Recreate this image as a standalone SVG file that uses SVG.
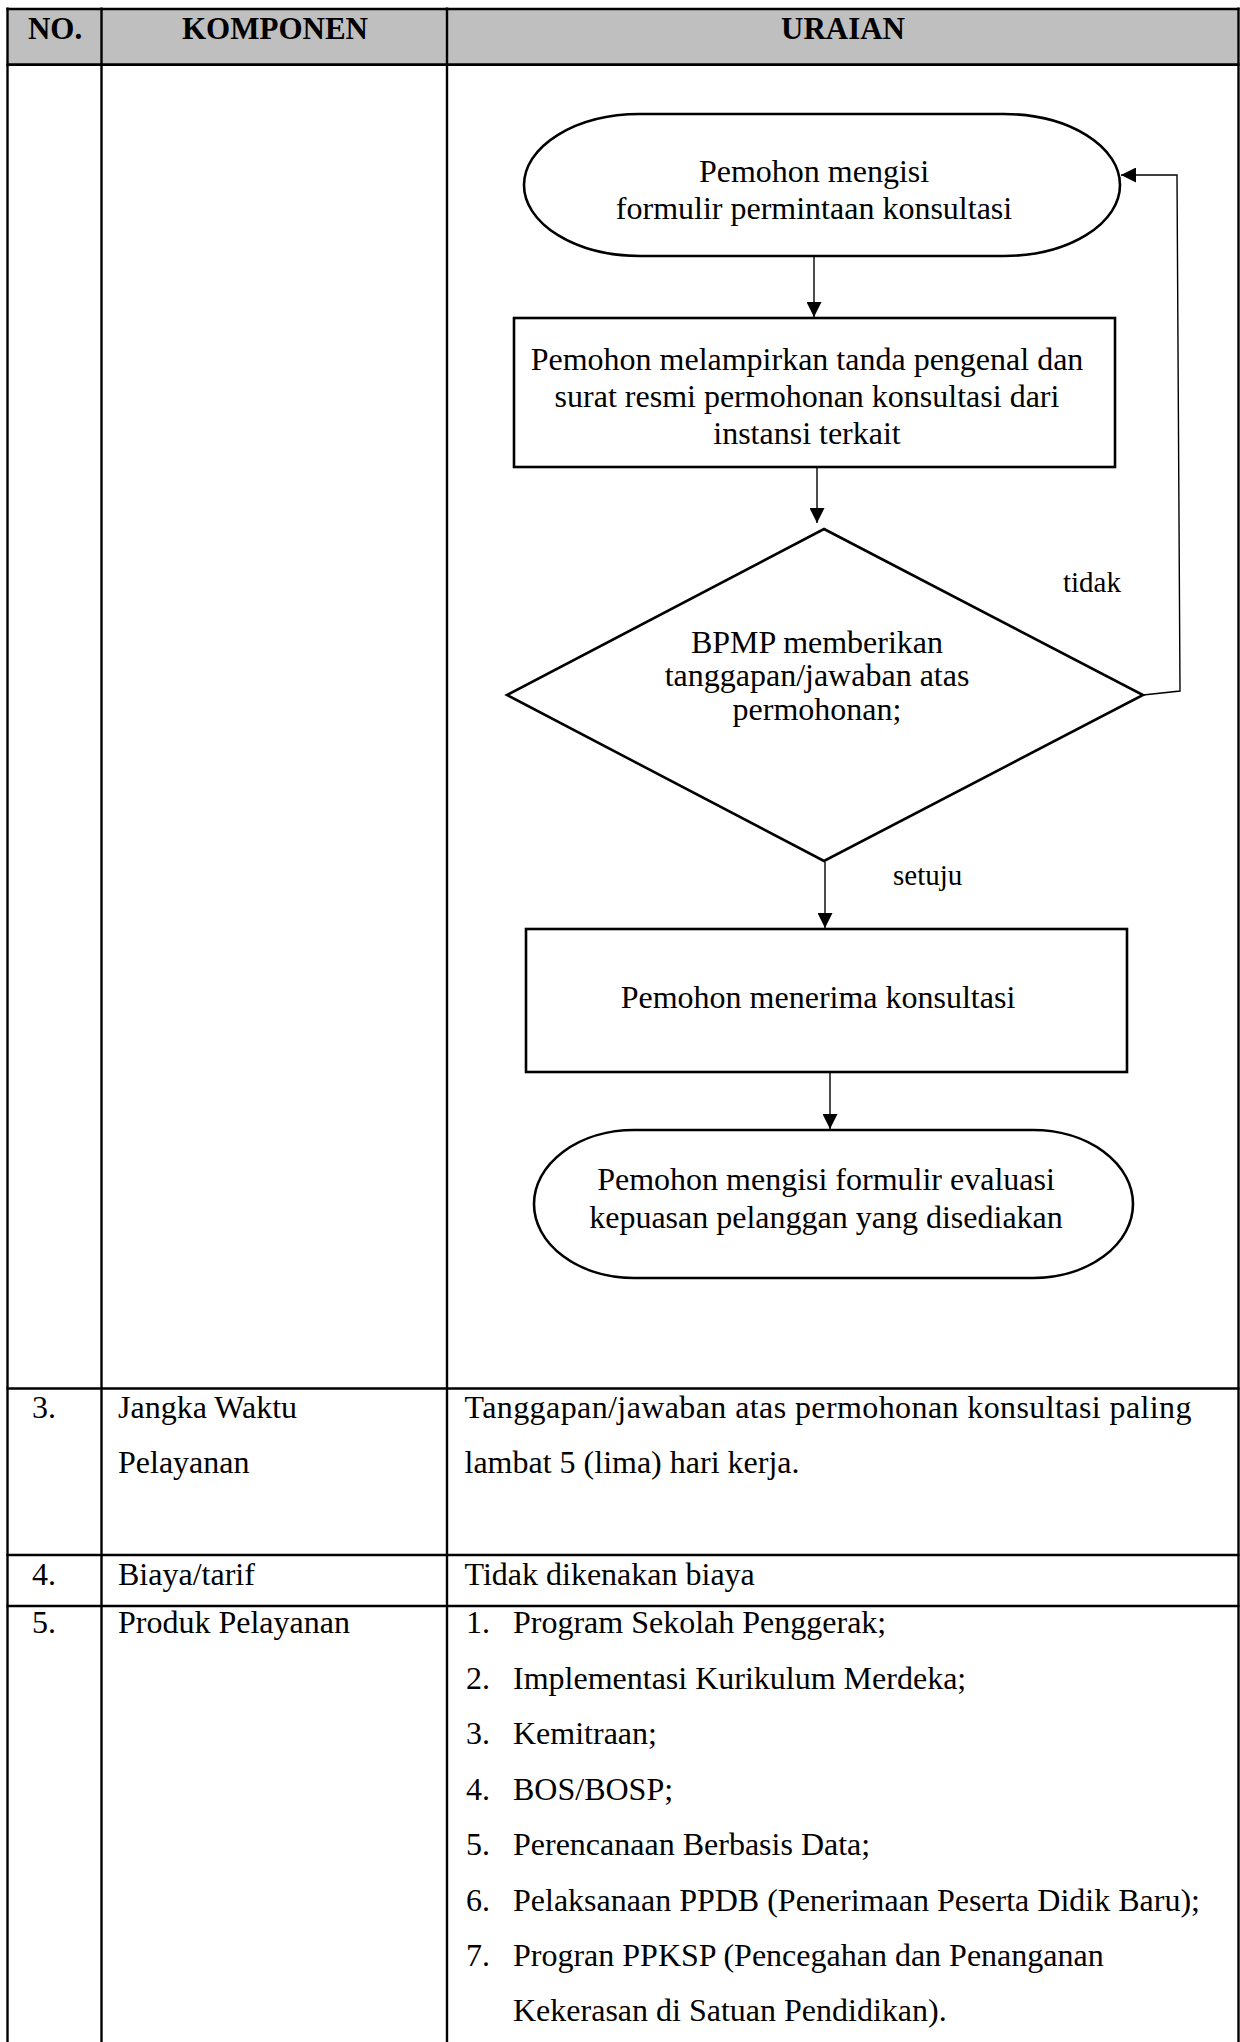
<svg xmlns="http://www.w3.org/2000/svg" width="1240" height="2042" viewBox="0 0 1240 2042">
<style>
  .t { font-family: "Liberation Serif", "Times New Roman", serif; font-size: 32px; fill: #000; }
  .h { font-family: "Liberation Serif", "Times New Roman", serif; font-size: 31px; font-weight: bold; fill: #000; text-anchor: middle; }
  .lbl { font-family: "Liberation Serif", "Times New Roman", serif; font-size: 29px; fill: #000; }
  .c { text-anchor: middle; }
  .grid { stroke: #000; stroke-width: 2.4; fill: none; }
  .gridh { stroke: #000; stroke-width: 2.7; fill: none; }
  .shape { stroke: #000; stroke-width: 2.6; fill: #fff; }
  .conn { stroke: #000; stroke-width: 1.4; fill: none; }
</style>
<defs>
  <marker id="arr" markerUnits="userSpaceOnUse" markerWidth="15" markerHeight="15" refX="15" refY="7.5" orient="auto">
    <path d="M0,0 L15,7.5 L0,15 z" fill="#000"/>
  </marker>
</defs>
<rect width="1240" height="2042" fill="#fff"/>

<g id="table">
  <rect x="8" y="9" width="1230.5" height="56" fill="#bfbfbf"/>
  <line class="gridh" x1="6.5" y1="9" x2="1239.5" y2="9"/>
  <line class="gridh" x1="6.5" y1="64.7" x2="1239.5" y2="64.7"/>
  <line class="gridh" x1="6.5" y1="1388.5" x2="1239.5" y2="1388.5"/>
  <line class="gridh" x1="6.5" y1="1555" x2="1239.5" y2="1555"/>
  <line class="gridh" x1="6.5" y1="1606" x2="1239.5" y2="1606"/>
  <line class="grid" x1="7.5" y1="7.5" x2="7.5" y2="2042"/>
  <line class="grid" x1="101.5" y1="7.5" x2="101.5" y2="2042"/>
  <line class="grid" x1="447" y1="7.5" x2="447" y2="2042"/>
  <line class="grid" x1="1238.5" y1="7.5" x2="1238.5" y2="2042"/>
</g>

<g id="header">
  <text class="h" x="55" y="39">NO.</text>
  <text class="h" x="275" y="39">KOMPONEN</text>
  <text class="h" x="843" y="39">URAIAN</text>
</g>

<g id="connectors">
  <line class="conn" x1="814" y1="257" x2="814" y2="317" marker-end="url(#arr)"/>
  <line class="conn" x1="817" y1="468" x2="817" y2="523" marker-end="url(#arr)"/>
  <line class="conn" x1="825" y1="862" x2="825" y2="928" marker-end="url(#arr)"/>
  <line class="conn" x1="830" y1="1073" x2="830" y2="1129" marker-end="url(#arr)"/>
  <polyline class="conn" points="1143,695 1180,691 1177,175 1121,175" stroke-width="2" marker-end="url(#arr)"/>
</g>

<g id="node-start">
  <rect class="shape" x="524" y="114" width="596" height="142" rx="116" ry="71"/>
  <text class="t c" x="814" y="182">Pemohon mengisi</text>
  <text class="t c" x="814" y="219">formulir permintaan konsultasi</text>
</g>

<g id="node-lampiran">
  <rect class="shape" x="514" y="318" width="601" height="149"/>
  <text class="t c" x="807" y="370">Pemohon melampirkan tanda pengenal dan</text>
  <text class="t c" x="807" y="407">surat resmi permohonan konsultasi dari</text>
  <text class="t c" x="807" y="444">instansi terkait</text>
</g>

<g id="node-keputusan">
  <polygon class="shape" points="824,529 1143,695 824,861 507,695"/>
  <text class="t c" x="817" y="653">BPMP memberikan</text>
  <text class="t c" x="817" y="686">tanggapan/jawaban atas</text>
  <text class="t c" x="817" y="720">permohonan;</text>
</g>

<g id="label-tidak">
  <text class="lbl" x="1063" y="592">tidak</text>
</g>
<g id="label-setuju">
  <text class="lbl" x="893" y="885">setuju</text>
</g>

<g id="node-terima">
  <rect class="shape" x="526" y="929" width="601" height="143"/>
  <text class="t c" x="818" y="1008">Pemohon menerima konsultasi</text>
</g>

<g id="node-end">
  <rect class="shape" x="534" y="1130" width="599" height="148" rx="100" ry="74"/>
  <text class="t c" x="826" y="1190">Pemohon mengisi formulir evaluasi</text>
  <text class="t c" x="826" y="1228">kepuasan pelanggan yang disediakan</text>
</g>

<g id="row-3">
  <text class="t" x="32" y="1418">3.</text>
  <text class="t" x="118" y="1418">Jangka Waktu</text>
  <text class="t" x="118" y="1473">Pelayanan</text>
  <text class="t" x="464.5" y="1418" textLength="727" lengthAdjust="spacing">Tanggapan/jawaban atas permohonan konsultasi paling</text>
  <text class="t" x="464.5" y="1473">lambat 5 (lima) hari kerja.</text>
</g>

<g id="row-4">
  <text class="t" x="32" y="1585">4.</text>
  <text class="t" x="118" y="1585">Biaya/tarif</text>
  <text class="t" x="464.5" y="1585">Tidak dikenakan biaya</text>
</g>

<g id="row-5">
  <text class="t" x="32" y="1633">5.</text>
  <text class="t" x="118" y="1633">Produk Pelayanan</text>
  <text class="t" x="466" y="1633">1.</text>
  <text class="t" x="513" y="1633">Program Sekolah Penggerak;</text>
  <text class="t" x="466" y="1689">2.</text>
  <text class="t" x="513" y="1689">Implementasi Kurikulum Merdeka;</text>
  <text class="t" x="466" y="1744">3.</text>
  <text class="t" x="513" y="1744">Kemitraan;</text>
  <text class="t" x="466" y="1800">4.</text>
  <text class="t" x="513" y="1800">BOS/BOSP;</text>
  <text class="t" x="466" y="1855">5.</text>
  <text class="t" x="513" y="1855">Perencanaan Berbasis Data;</text>
  <text class="t" x="466" y="1911">6.</text>
  <text class="t" x="513" y="1911">Pelaksanaan PPDB (Penerimaan Peserta Didik Baru);</text>
  <text class="t" x="466" y="1966">7.</text>
  <text class="t" x="513" y="1966">Progran PPKSP (Pencegahan dan Penanganan</text>
  <text class="t" x="513" y="2021">Kekerasan di Satuan Pendidikan).</text>
</g>
</svg>
